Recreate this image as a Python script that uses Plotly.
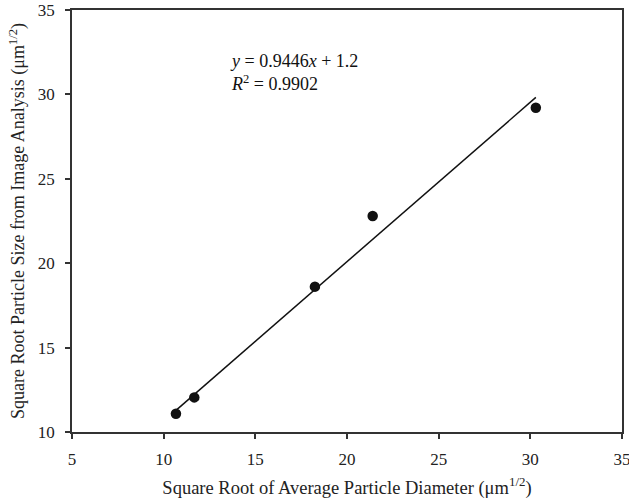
import plotly.graph_objects as go

# Measured values (square-root units, um^1/2)
avg_diameter_sqrt = [10.67, 11.67, 18.25, 21.40, 30.30]
image_size_sqrt = [11.08, 12.05, 18.61, 22.80, 29.21]

# Linear fit reported on the chart
slope = 0.9446
intercept = 1.2
r_squared = 0.9902

x_ticks = [5, 10, 15, 20, 25, 30, 35]
y_ticks = [10, 15, 20, 25, 30, 35]

font_family = "Liberation Serif, Times New Roman, serif"

fit_x = [min(avg_diameter_sqrt), max(avg_diameter_sqrt)]
fit_y = [slope * v + intercept for v in fit_x]

fig = go.Figure()
fig.add_trace(go.Scatter(
    x=fit_x, y=fit_y, mode="lines",
    line=dict(color="#111111", width=1.5),
    hoverinfo="skip", showlegend=False,
))
fig.add_trace(go.Scatter(
    x=avg_diameter_sqrt, y=image_size_sqrt, mode="markers",
    marker=dict(color="#111111", size=10.5),
    showlegend=False,
))

fig.add_annotation(
    x=0.284, y=0.853, xref="paper", yref="paper",
    xanchor="left", yanchor="middle", showarrow=False, align="left",
    text=(f"<i>y</i> = {slope}<i>x</i> + {intercept}<br>"
          f"<i>R</i><sup>2</sup> = {r_squared}"),
    font=dict(family=font_family, size=18, color="#111111"),
)

axis_common = dict(
    showgrid=False, zeroline=False, automargin=False,
    showline=True, linecolor="#333333", linewidth=1.8, mirror=True,
    ticks="outside", ticklen=5, tickwidth=1.5, tickcolor="#333333",
    tickfont=dict(family=font_family, size=17, color="#222222"),
    ticklabeloverflow="allow",
)

fig.update_xaxes(
    range=[5, 35], tickvals=x_ticks, ticklabelstandoff=6,
    title=dict(text="Square Root of Average Particle Diameter (μm<sup>1/2</sup>)",
               font=dict(family=font_family, size=18.5, color="#222222"),
               standoff=13),
    **axis_common,
)
fig.update_yaxes(
    range=[10, 35], tickvals=y_ticks, ticklabelstandoff=7,
    title=dict(text="Square Root Particle Size from Image Analysis (μm<sup>1/2</sup>)",
               font=dict(family=font_family, size=18, color="#222222"),
               standoff=8),
    **axis_common,
)

fig.update_layout(
    width=629, height=501,
    margin=dict(l=72, r=7, t=10, b=69),
    plot_bgcolor="white", paper_bgcolor="white",
)

fig.write_html("out.html")
